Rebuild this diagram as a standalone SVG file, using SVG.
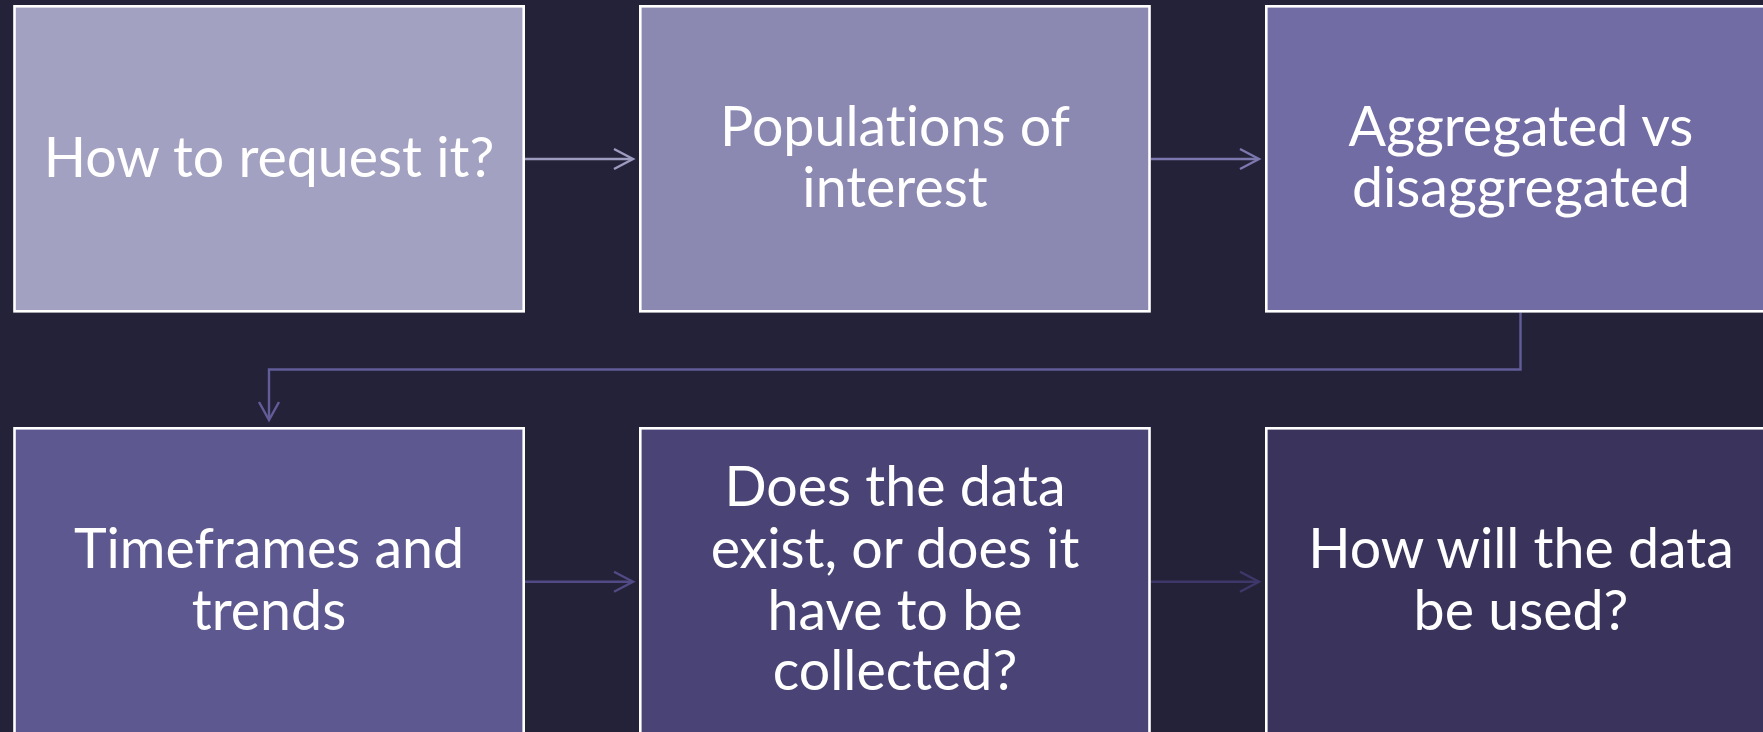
<svg xmlns="http://www.w3.org/2000/svg" width="1763" height="732" viewBox="0 0 1763 732">
<style>
.box{stroke:#ffffff;stroke-width:2.6}
.t{font-family:Lato,"Open Sans","DejaVu Sans",sans-serif;font-size:55.5px;fill:#ffffff;text-anchor:middle;font-variant-ligatures:none}
.c{fill:none;stroke-width:2.4}
</style>
<rect width="1763" height="732" fill="#242238"/>
<g id="connectors">
<g stroke="#9e9bc0" class="c"><line x1="525" y1="159" x2="632" y2="159"/><polyline points="614,149 633,159 614,169"/></g>
<g stroke="#7c77ac" class="c"><line x1="1151" y1="159" x2="1258" y2="159"/><polyline points="1240,149 1259,159 1240,169"/></g>
<g stroke="#625c98" class="c"><polyline points="1520.5,312.6 1520.5,369.5 269,369.5 269,419"/><polyline points="259,402 269,420 279,402"/></g>
<g stroke="#514a85" class="c"><line x1="525" y1="581.7" x2="632" y2="581.7"/><polyline points="614,571.7 633,581.7 614,591.7"/></g>
<g stroke="#3e386a" class="c"><line x1="1151" y1="581.7" x2="1258" y2="581.7"/><polyline points="1240,571.7 1259,581.7 1240,591.7"/></g>
</g>
<g id="n1"><rect class="box" x="14.5" y="6.3" width="509.2" height="305" fill="#a3a1c1"/>
<text class="t" x="269" y="177">How to request it?</text></g>
<g id="n2"><rect class="box" x="640.3" y="6.3" width="509.2" height="305" fill="#8b89b1"/>
<text class="t" x="895" y="146">Populations of</text><text class="t" x="895" y="207">interest</text></g>
<g id="n3"><rect class="box" x="1266.3" y="6.3" width="509.2" height="305" fill="#716ca3"/>
<text class="t" x="1521" y="146">Aggregated vs</text><text class="t" x="1521" y="207">disaggregated</text></g>
<g id="n4"><rect class="box" x="14.5" y="428.3" width="509.2" height="305" fill="#5d588f"/>
<text class="t" x="269" y="568">Timeframes and</text><text class="t" x="269" y="630">trends</text></g>
<g id="n5"><rect class="box" x="640.3" y="428.3" width="509.2" height="305" fill="#4a4476"/>
<text class="t" x="895" y="506">Does the data</text><text class="t" x="895" y="568">exist, or does it</text><text class="t" x="895" y="630">have to be</text><text class="t" x="895" y="690">collected?</text></g>
<g id="n6"><rect class="box" x="1266.3" y="428.3" width="509.2" height="305" fill="#3a345d"/>
<text class="t" x="1521" y="568">How will the data</text><text class="t" x="1521" y="630">be used?</text></g>
</svg>
